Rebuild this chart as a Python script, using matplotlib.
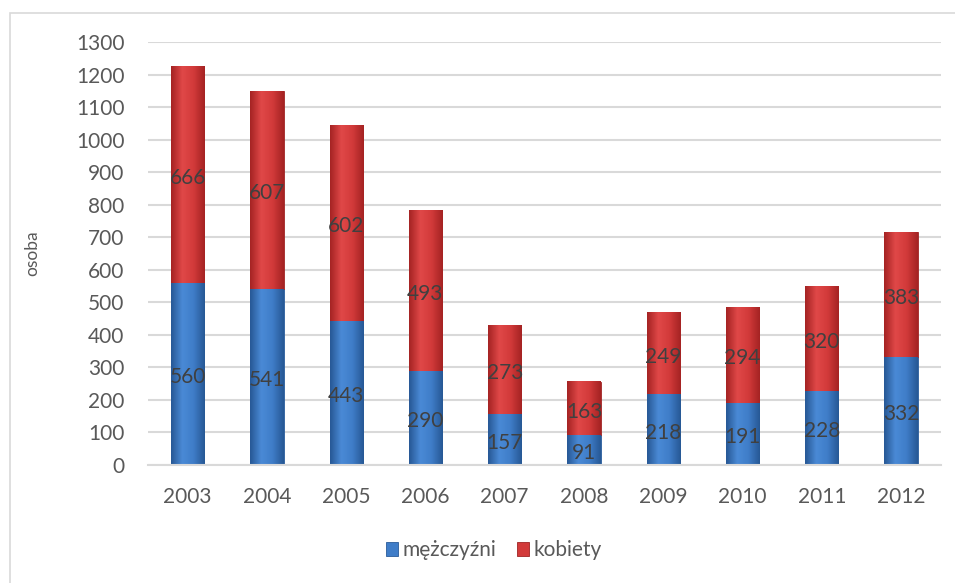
import numpy as np
import matplotlib.pyplot as plt
from matplotlib.patches import Rectangle
from matplotlib.colors import LinearSegmentedColormap

years = ["2003", "2004", "2005", "2006", "2007", "2008", "2009", "2010", "2011", "2012"]
men = [560, 541, 443, 290, 157, 91, 218, 191, 228, 332]
women = [666, 607, 602, 493, 273, 163, 249, 294, 320, 383]

plt.rcParams["font.family"] = ["Lato", "DejaVu Sans"]
txt = "#595959"

fig = plt.figure(figsize=(9.55, 5.83), dpi=100)
ax = fig.add_axes([0.155, 0.2024, 0.83, 0.7256])

x = np.arange(len(years))
width = 0.42

blue_cm = LinearSegmentedColormap.from_list("b", ["#275895", "#4a8ad6", "#3f7dc8", "#275895"])
red_cm = LinearSegmentedColormap.from_list("r", ["#a52323", "#e04848", "#d23a3a", "#a52323"])
grad = np.linspace(0, 1, 64).reshape(1, -1)

bars_m = ax.bar(x, men, width, color="#3f7dc8", edgecolor="#2a5c9a", linewidth=0.6, zorder=2, label="mężczyźni")
bars_w = ax.bar(x, women, width, bottom=men, color="#d23a3a", edgecolor="#9e2424", linewidth=0.6, zorder=2, label="kobiety")

# gradient fill on every bar
for bars, cm in ((bars_m, blue_cm), (bars_w, red_cm)):
    for b in bars:
        x0, y0 = b.get_x(), b.get_y()
        ax.imshow(grad, cmap=cm, aspect="auto", extent=(x0, x0 + b.get_width(), y0, y0 + b.get_height()),
                  zorder=2.5, interpolation="bicubic")

for i in range(len(years)):
    ax.text(x[i], men[i] / 2 - 10, str(men[i]), ha="center", va="center", fontsize=15, color="#404040", zorder=4)
    ax.text(x[i], men[i] + women[i] / 2 - 10, str(women[i]), ha="center", va="center", fontsize=15, color="#404040", zorder=4)

ax.set_xlim(-0.5, len(years) - 0.5)
ax.set_ylim(0, 1300)
ax.set_yticks(range(0, 1301, 100))
ax.set_xticks(x)
ax.set_xticklabels(years)
ax.tick_params(length=0, labelsize=15, colors=txt, pad=17)
ax.tick_params(axis="x", pad=16)
ax.grid(axis="y", color="#d9d9d9", linewidth=1.5, zorder=0)
ax.set_axisbelow(True)
for s in ["top", "right", "left"]:
    ax.spines[s].set_visible(False)
ax.spines["bottom"].set_color("#d9d9d9")
ax.spines["bottom"].set_linewidth(1.5)
ax.set_ylabel("osoba", fontsize=12.5, color=txt, labelpad=26)

leg = fig.legend(handles=[bars_m, bars_w], labels=["mężczyźni", "kobiety"], loc="center",
                 bbox_to_anchor=(0.517, 0.056), ncol=2, frameon=False, fontsize=15,
                 handlelength=0.6, handleheight=0.6, handletextpad=0.2, columnspacing=1.0)
for t in leg.get_texts():
    t.set_color(txt)

# outer chart border
fig.patches.append(Rectangle((10 / 955, -0.05), 1.0, 1 - 13 / 583 + 0.05, transform=fig.transFigure,
                             fill=False, edgecolor="#d9d9d9", linewidth=1.2))

fig.savefig("out.png", dpi=100)
